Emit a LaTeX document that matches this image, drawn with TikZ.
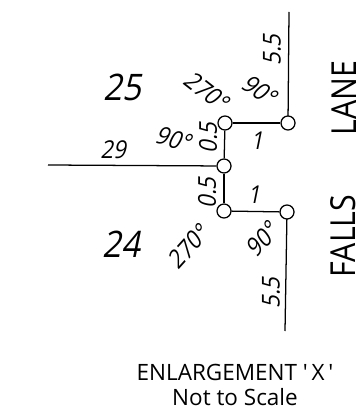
\documentclass[tikz,border=0pt]{standalone}
\usepackage{xcolor}
\usepackage{fontspec}
\setmainfont{Open Sans}[FakeStretch=0.88]
\newfontfamily\slantfont{Open Sans}[FakeStretch=0.9,FakeSlant=0.2]
\newfontfamily\widefont{Open Sans}
\tikzset{
  peg/.style={draw, circle, fill=white, line width=0.9pt, minimum size=0.35cm, inner sep=0pt},
  boundary/.style={line width=0.9pt},
  lotnum/.style={font=\slantfont\fontsize{26}{26}\selectfont, inner sep=0pt},
  dimlabel/.style={font=\slantfont\fontsize{17.5}{18}\selectfont, inner sep=0pt},
  roadname/.style={font=\fontsize{24.5}{25}\selectfont, inner sep=0pt, rotate=90},
  caption/.style={font=\widefont\fontsize{16}{18}\selectfont, inner sep=0pt, align=center}
}
\begin{document}
\begin{tikzpicture}[x=0.025cm, y=-0.025cm]
\useasboundingbox (0,0) rectangle (360,413);
\fill[white] (0,0) rectangle (360,413);

\coordinate (lane_end) at (289,12);
\coordinate (falls_end) at (285,331);
\coordinate (west_end) at (48,165);

\draw[boundary] (lane_end) -- (288,123) coordinate (lane_corner);
\draw[boundary] (falls_end) -- (287,212) coordinate (falls_corner);

\node[peg] (peg_tl) at (225,123) {};
\node[peg] (peg_tr) at (lane_corner) {};
\node[peg] (peg_m) at (224,166) {};
\node[peg] (peg_bl) at (224,211) {};
\node[peg] (peg_br) at (falls_corner) {};

\draw[boundary] (peg_tl) -- (peg_tr);
\draw[boundary] (peg_bl) -- (peg_br);
\draw[boundary] (peg_tl) -- (peg_m);
\draw[boundary] (peg_m) -- (peg_bl);
\draw[boundary] (west_end) -- (peg_m);

\node[lotnum] (lot_25) at (122,87) {25};
\node[lotnum] (lot_24) at (121,244) {24};

\node[dimlabel] (dist_29) at (113,150) {29};
\node[dimlabel] (dist_1a) at (257,141) {1};
\node[dimlabel] (dist_1b) at (254,195) {1};
\node[dimlabel, rotate=90] (dist_05a) at (208,138) {0.5};
\node[dimlabel, rotate=90] (dist_05b) at (207,193) {0.5};
\node[dimlabel, rotate=90] (dist_55a) at (272,50) {5.5};
\node[dimlabel, rotate=90] (dist_55b) at (271,293) {5.5};

\node[dimlabel, rotate=-38] (ang_270a) at (206,91) {270°};
\node[dimlabel, rotate=-35] (ang_90a) at (259,90) {90°};
\node[dimlabel, rotate=-15] (ang_90b) at (173,139) {90°};
\node[dimlabel, rotate=48] (ang_270b) at (188,247) {270°};
\node[dimlabel, rotate=48] (ang_90c) at (262,240) {90°};

\node[roadname] (road_lane) at (344,98) {LANE};
\node[roadname] (road_falls) at (343,236) {FALLS};

\node[caption] (title) at (235,385) {ENLARGEMENT '\,X\,'\\Not to Scale};

\end{tikzpicture}
\end{document}
